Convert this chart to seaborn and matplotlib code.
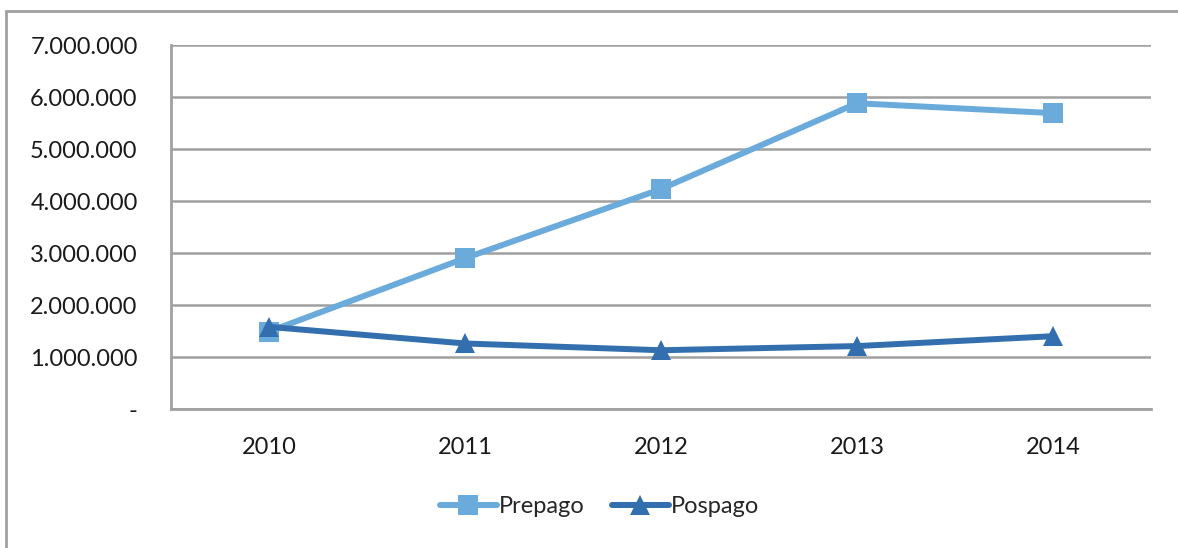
import pandas as pd
import numpy as np
from matplotlib import pyplot as plt
from matplotlib.lines import Line2D
from matplotlib.patches import Rectangle
from matplotlib.ticker import FuncFormatter
import seaborn as sns

# data
years = ['2010', '2011', '2012', '2013', '2014']
prepago = [1490000, 2900000, 4230000, 5880000, 5690000]
pospago = [1580000, 1260000, 1130000, 1210000, 1400000]
series_names = ['Prepago', 'Pospago']
yticks = [0, 1000000, 2000000, 3000000, 4000000, 5000000, 6000000, 7000000]

colors = {'Prepago': '#6aabdc', 'Pospago': '#336fae'}
markers = {'Prepago': 's', 'Pospago': '^'}

df = pd.DataFrame({
    'year': years * 2,
    'value': prepago + pospago,
    'serie': ['Prepago'] * len(years) + ['Pospago'] * len(years),
})

sns.set_style('white')
plt.rcParams['font.family'] = ['Lato', 'DejaVu Sans']

fig = plt.figure(figsize=(11.78, 5.48), dpi=100)
ax = fig.add_axes([171 / 1178, 139 / 548, 980 / 1178, 364 / 548])

sns.lineplot(data=df, x='year', y='value', hue='serie', style='serie',
             hue_order=series_names, style_order=series_names,
             palette=colors, markers=markers, dashes=False,
             linewidth=4.3, markersize=14, markeredgewidth=0,
             legend=False, ax=ax, zorder=3)

ax.set_xlim(-0.5, len(years) - 0.5)
ax.set_ylim(0, 7000000)
ax.set_yticks(yticks)
ax.yaxis.set_major_formatter(FuncFormatter(
    lambda v, p: '-' if v == 0 else f'{int(v):,}'.replace(',', '.')))
ax.grid(axis='y', color='#a0a0a0', linewidth=1.8)
ax.grid(axis='x', visible=False)
ax.set_axisbelow(True)
for s in ['top', 'right']:
    ax.spines[s].set_visible(False)
for s in ['left', 'bottom']:
    ax.spines[s].set_color('#a0a0a0')
    ax.spines[s].set_linewidth(2)
ax.tick_params(axis='both', length=0, labelsize=17, colors='#1a1a1a')
ax.tick_params(axis='y', pad=24)
ax.tick_params(axis='x', pad=20)
ax.set_xlabel('')
ax.set_ylabel('')

handles = [Line2D([], [], color=colors[n], marker=markers[n], linewidth=4.3,
                  markersize=14, markeredgewidth=0) for n in series_names]
fig.legend(handles, series_names, loc='center', bbox_to_anchor=(0.509, 0.075),
           ncol=2, frameon=False, fontsize=17, handlelength=2.4,
           handletextpad=0.1, columnspacing=1.15)

# outer chart frame (only top and left edges are visible in the crop)
fig.patches.append(Rectangle((6 / 1178, -0.1), 1.2, 1.1 - 11 / 548,
                             transform=fig.transFigure, fill=False,
                             edgecolor='#a0a0a0', linewidth=2))

plt.savefig('out.png', dpi=100)
